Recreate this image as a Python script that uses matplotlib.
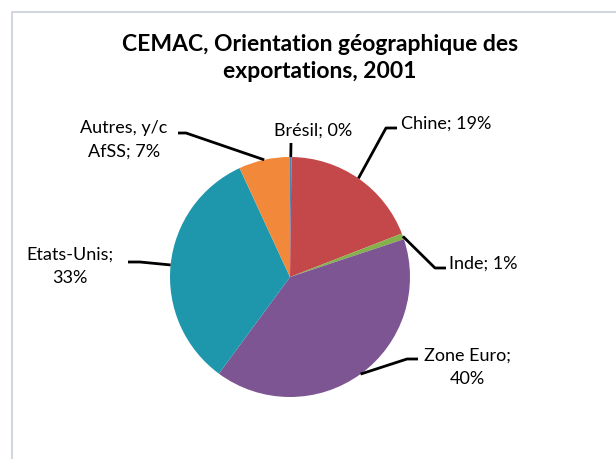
import numpy as np
import matplotlib.pyplot as plt
from matplotlib.lines import Line2D

# data (clockwise from 12 o'clock)
pays = ["Brésil", "Chine", "Inde", "Zone Euro", "Etats-Unis", "Autres, y/c AfSS"]
parts = [0.2, 18.9, 0.8, 40.2, 33.0, 6.9]
textes = ["Brésil; 0%", "Chine; 19%", "Inde; 1%", "Zone Euro;\n40%", "Etats-Unis;\n33%", "Autres, y/c\nAfSS; 7%"]
couleurs = ["#4F81BD", "#C4474A", "#86B04C", "#7C5592", "#1E97AD", "#F2883A"]

W, H = 616, 459
fig = plt.figure(figsize=(W / 100, H / 100), dpi=100)
ax = fig.add_axes([0, 0, 1, 1])

cx, cy, r = 290, H - 277, 120
ax.pie(parts, colors=couleurs, startangle=90, counterclock=False,
       center=(cx, cy), radius=r, frame=True,
       wedgeprops=dict(linewidth=0))
ax.set_xlim(0, W)
ax.set_ylim(0, H)
ax.set_aspect("equal")
ax.axis("off")

# label layout in pixels (y down): text pos, alignment, elbow, end of horizontal tick
layout = [
    ((313, 131), "center", (291, 143), (291, 143)),
    ((401, 124), "left", (386, 128), (397, 128)),
    ((449, 264), "left", (435, 268), (446, 268)),
    ((467, 367), "center", (407, 359), (418, 359)),
    ((70, 266), "center", (140, 262), (128, 262)),
    ((124, 140), "center", (186, 133), (178, 133)),
]

cum = np.cumsum([0] + parts)
tot = sum(parts)
for i, (txt, (tp, ha, elb, end)) in enumerate(zip(textes, layout)):
    mid = (cum[i] + cum[i + 1]) / 2 / tot * 2 * np.pi
    ex = cx + r * np.sin(mid)
    ey = cy + r * np.cos(mid)
    ax.add_line(Line2D([ex, elb[0], end[0]], [ey, H - elb[1], H - end[1]],
                       color="black", lw=2, solid_capstyle="butt"))
    ax.text(tp[0], H - tp[1], txt, ha=ha, va="center", fontsize=13,
            family="Lato", linespacing=1.55)

ax.text(320, H - 58, "CEMAC, Orientation géographique des\nexportations, 2001",
        ha="center", va="center", fontsize=16.5, fontweight="bold",
        family="Lato", linespacing=1.3)

# chart area border
ax.add_line(Line2D([12, 12, W], [0, H - 12, H - 12], color="#D3D7DF", lw=1.5))

fig.savefig("out.png", dpi=100)
